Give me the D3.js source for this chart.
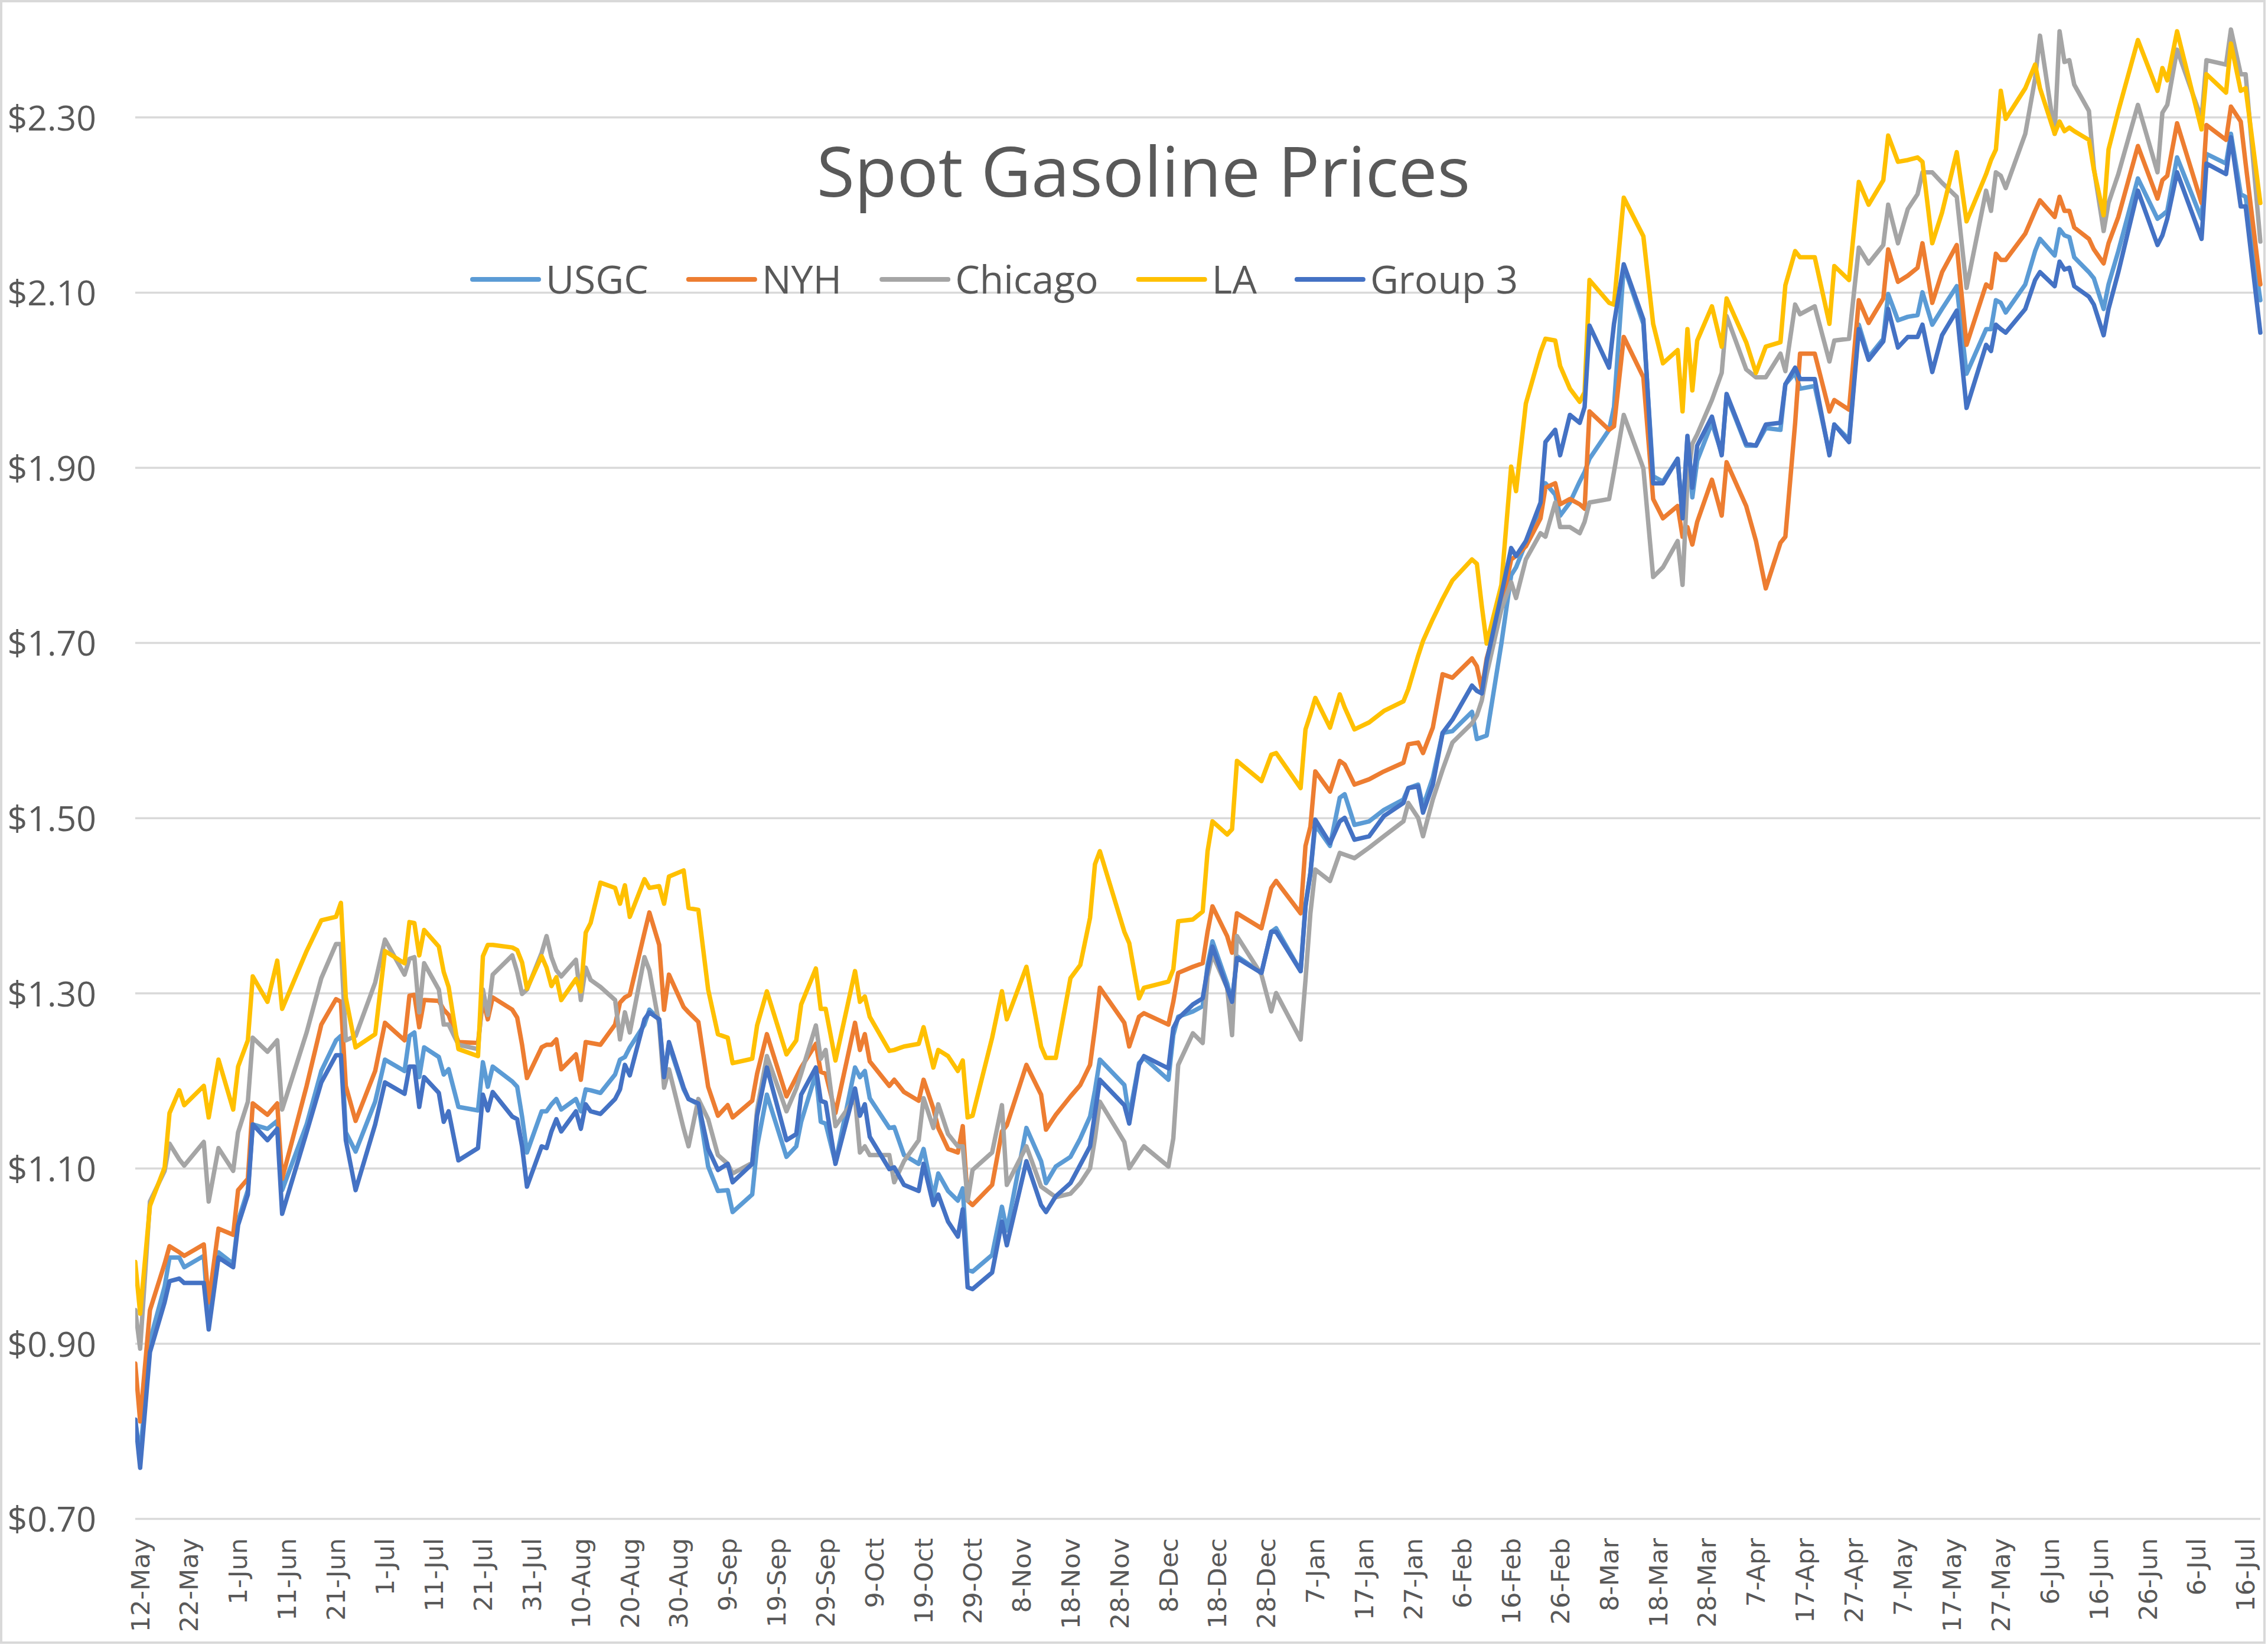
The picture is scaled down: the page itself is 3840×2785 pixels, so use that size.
<!DOCTYPE html>
<html><head><meta charset="utf-8">
<script src="https://cdn.jsdelivr.net/npm/d3@7"></script>
<style>html,body{margin:0;padding:0;background:#fff}svg{display:block}</style>
</head><body>
<svg id="chart" width="3840" height="2785"></svg>
<script>
const chartTitle = "Spot Gasoline Prices";
const seriesNames = ["USGC", "NYH", "Chicago", "LA", "Group 3"];
const seriesColors = ["#5B9BD5", "#ED7D31", "#A5A5A5", "#FFC000", "#4472C4"];
const yTicks = [0.7, 0.9, 1.1, 1.3, 1.5, 1.7, 1.9, 2.1, 2.3];
const xTickDates = ["2020-05-12","2020-05-22","2020-06-01","2020-06-11","2020-06-21","2020-07-01","2020-07-11","2020-07-21","2020-07-31","2020-08-10","2020-08-20","2020-08-30","2020-09-09","2020-09-19","2020-09-29","2020-10-09","2020-10-19","2020-10-29","2020-11-08","2020-11-18","2020-11-28","2020-12-08","2020-12-18","2020-12-28","2021-01-07","2021-01-17","2021-01-27","2021-02-06","2021-02-16","2021-02-26","2021-03-08","2021-03-18","2021-03-28","2021-04-07","2021-04-17","2021-04-27","2021-05-07","2021-05-17","2021-05-27","2021-06-06","2021-06-16","2021-06-26","2021-07-06","2021-07-16"];

const dates = [
"2020-05-12","2020-05-13","2020-05-15","2020-05-18","2020-05-19","2020-05-21","2020-05-22","2020-05-26","2020-05-27","2020-05-29",
"2020-06-01","2020-06-02","2020-06-04","2020-06-05","2020-06-08","2020-06-10","2020-06-11","2020-06-16","2020-06-19","2020-06-22",
"2020-06-23","2020-06-24","2020-06-26","2020-06-30","2020-07-02","2020-07-06","2020-07-07",
"2020-07-08","2020-07-09","2020-07-10","2020-07-13","2020-07-14","2020-07-15","2020-07-17","2020-07-21","2020-07-22","2020-07-23",
"2020-07-24","2020-07-28","2020-07-29","2020-07-30","2020-07-31","2020-08-03","2020-08-04","2020-08-05","2020-08-06","2020-08-07",
"2020-08-10","2020-08-11","2020-08-12","2020-08-13","2020-08-15","2020-08-18","2020-08-19","2020-08-20","2020-08-21","2020-08-24",
"2020-08-25","2020-08-27","2020-08-28","2020-08-29","2020-09-01","2020-09-02","2020-09-04","2020-09-06",
"2020-09-08","2020-09-10","2020-09-11","2020-09-15","2020-09-16","2020-09-18","2020-09-22","2020-09-24","2020-09-25","2020-09-28",
"2020-09-29","2020-09-30","2020-10-02","2020-10-06","2020-10-07","2020-10-08","2020-10-09","2020-10-13","2020-10-14","2020-10-16",
"2020-10-19","2020-10-20","2020-10-22","2020-10-23","2020-10-25","2020-10-27","2020-10-28","2020-10-29","2020-10-30","2020-11-03",
"2020-11-05","2020-11-06",
"2020-11-10","2020-11-13","2020-11-14","2020-11-16","2020-11-19","2020-11-21","2020-11-23","2020-11-24","2020-11-25","2020-11-30",
"2020-12-01","2020-12-03","2020-12-04","2020-12-09","2020-12-10","2020-12-11","2020-12-14","2020-12-16","2020-12-17","2020-12-18",
"2020-12-21","2020-12-22","2020-12-23","2020-12-28","2020-12-30","2020-12-31","2021-01-05","2021-01-06","2021-01-07","2021-01-08",
"2021-01-11","2021-01-13","2021-01-14","2021-01-16","2021-01-19","2021-01-22","2021-01-26","2021-01-27","2021-01-29","2021-01-30",
"2021-02-01","2021-02-03",
"2021-02-05","2021-02-09","2021-02-10","2021-02-11","2021-02-12","2021-02-15","2021-02-17","2021-02-18","2021-02-20","2021-02-23",
"2021-02-24","2021-02-26","2021-02-27","2021-03-01","2021-03-03","2021-03-04","2021-03-05","2021-03-09","2021-03-10","2021-03-12",
"2021-03-16","2021-03-18","2021-03-20","2021-03-23","2021-03-24","2021-03-25","2021-03-26","2021-03-27","2021-03-30","2021-04-01",
"2021-04-02","2021-04-06","2021-04-08","2021-04-10","2021-04-13","2021-04-14","2021-04-16","2021-04-17","2021-04-20","2021-04-23",
"2021-04-24","2021-04-27","2021-04-29",
"2021-05-01","2021-05-04","2021-05-05","2021-05-07","2021-05-09","2021-05-11","2021-05-12","2021-05-14","2021-05-16","2021-05-19",
"2021-05-21","2021-05-25","2021-05-26","2021-05-27","2021-05-28","2021-05-29","2021-06-02","2021-06-04","2021-06-05","2021-06-08",
"2021-06-09","2021-06-10","2021-06-11","2021-06-12","2021-06-15","2021-06-16","2021-06-18","2021-06-19","2021-06-21","2021-06-25",
"2021-06-29","2021-06-30","2021-07-01","2021-07-03","2021-07-08","2021-07-09","2021-07-13","2021-07-14","2021-07-16","2021-07-17",
"2021-07-20"];

const usgc = [
0.813,0.771,0.903,0.965,0.998,0.998,0.987,1.000,0.925,1.004,0.991,1.040,1.075,1.150,1.145,1.154,1.075,1.150,1.211,1.246,1.251,1.141,1.119,1.176,1.224,1.211,1.251,
1.255,1.204,1.238,1.227,1.207,1.213,1.170,1.166,1.221,1.193,1.216,1.199,1.193,1.159,1.118,1.165,1.165,1.173,1.179,1.167,1.179,1.165,1.190,1.189,1.186,1.207,1.224,1.227,1.238,1.264,1.281,1.270,1.207,1.241,1.190,1.179,1.173,1.102,
1.074,1.075,1.050,1.070,1.125,1.184,1.113,1.125,1.153,1.208,1.153,1.151,1.106,1.215,1.204,1.211,1.180,1.146,1.147,1.115,1.105,1.122,1.067,1.094,1.074,1.063,1.077,0.984,0.982,1.001,1.056,1.029,
1.146,1.108,1.083,1.102,1.113,1.134,1.159,1.189,1.224,1.195,1.159,1.220,1.226,1.201,1.252,1.273,1.279,1.285,1.332,1.359,1.311,1.290,1.342,1.323,1.370,1.374,1.325,1.401,1.437,1.492,1.468,1.523,1.527,1.492,1.496,1.509,1.521,1.534,1.538,1.513,1.546,1.597,
1.599,1.621,1.590,1.592,1.594,1.699,1.777,1.786,1.814,1.851,1.882,1.869,1.845,1.860,1.884,1.895,1.910,1.943,1.969,2.130,2.064,1.890,1.884,1.910,1.845,1.934,1.866,1.908,1.951,1.916,1.982,1.925,1.925,1.945,1.943,1.995,2.008,1.990,1.993,1.916,1.949,1.932,2.063,
2.026,2.047,2.098,2.068,2.072,2.074,2.100,2.063,2.081,2.107,2.007,2.058,2.058,2.091,2.088,2.077,2.109,2.147,2.161,2.142,2.172,2.165,2.163,2.140,2.123,2.116,2.081,2.109,2.147,2.230,2.184,2.188,2.193,2.254,2.184,2.258,2.247,2.281,2.212,2.209,2.091];

const nyh = [
0.877,0.811,0.938,0.991,1.011,1.004,1.000,1.013,0.947,1.031,1.024,1.075,1.088,1.174,1.161,1.174,1.088,1.194,1.264,1.293,1.290,1.194,1.154,1.211,1.266,1.246,1.297,
1.298,1.261,1.292,1.291,1.281,1.275,1.244,1.243,1.292,1.270,1.295,1.281,1.272,1.241,1.203,1.238,1.241,1.241,1.247,1.213,1.230,1.201,1.244,1.243,1.241,1.264,1.289,1.295,1.298,1.369,1.392,1.355,1.281,1.321,1.284,1.278,1.267,1.193,
1.160,1.172,1.158,1.177,1.208,1.253,1.182,1.204,1.215,1.242,1.210,1.208,1.163,1.266,1.235,1.253,1.222,1.194,1.201,1.187,1.177,1.201,1.168,1.146,1.122,1.118,1.148,1.063,1.058,1.081,1.142,1.149,
1.218,1.184,1.144,1.161,1.182,1.195,1.218,1.260,1.306,1.266,1.239,1.273,1.277,1.264,1.290,1.323,1.330,1.334,1.370,1.399,1.365,1.346,1.391,1.374,1.420,1.428,1.391,1.468,1.490,1.553,1.530,1.565,1.561,1.538,1.544,1.553,1.563,1.584,1.586,1.574,1.603,1.664,
1.660,1.682,1.673,1.647,1.682,1.742,1.795,1.799,1.810,1.842,1.877,1.882,1.858,1.864,1.858,1.853,1.964,1.943,1.947,2.049,2.003,1.864,1.842,1.856,1.821,1.832,1.812,1.838,1.886,1.845,1.906,1.856,1.816,1.762,1.814,1.821,1.951,2.030,2.030,1.964,1.977,1.966,2.091,
2.065,2.093,2.149,2.112,2.119,2.128,2.156,2.088,2.123,2.154,2.040,2.109,2.105,2.144,2.137,2.137,2.167,2.193,2.205,2.186,2.209,2.193,2.193,2.174,2.161,2.149,2.133,2.156,2.186,2.267,2.207,2.228,2.233,2.293,2.202,2.291,2.274,2.312,2.295,2.247,2.109];

const chicago = [
0.938,0.894,1.062,1.097,1.128,1.110,1.103,1.130,1.062,1.123,1.097,1.141,1.176,1.249,1.233,1.246,1.167,1.255,1.317,1.356,1.356,1.246,1.251,1.312,1.361,1.321,1.339,
1.341,1.278,1.334,1.304,1.264,1.264,1.241,1.236,1.304,1.275,1.321,1.343,1.324,1.299,1.304,1.346,1.365,1.341,1.326,1.319,1.338,1.292,1.329,1.315,1.307,1.292,1.247,1.278,1.255,1.341,1.326,1.264,1.192,1.213,1.145,1.125,1.179,1.156,
1.115,1.105,1.094,1.106,1.167,1.228,1.165,1.191,1.208,1.263,1.225,1.235,1.148,1.180,1.118,1.125,1.115,1.115,1.084,1.108,1.132,1.180,1.146,1.173,1.139,1.125,1.125,1.063,1.098,1.118,1.172,1.081,
1.125,1.079,1.075,1.067,1.071,1.083,1.100,1.134,1.176,1.130,1.100,1.117,1.125,1.102,1.134,1.218,1.254,1.243,1.319,1.344,1.306,1.252,1.365,1.321,1.279,1.300,1.247,1.315,1.391,1.441,1.428,1.460,1.458,1.454,1.466,1.479,1.496,1.517,1.500,1.479,1.521,1.555,
1.586,1.608,1.617,1.634,1.664,1.738,1.769,1.751,1.795,1.825,1.821,1.860,1.832,1.832,1.825,1.838,1.860,1.864,1.895,1.960,1.899,1.775,1.786,1.816,1.766,1.884,1.927,1.938,1.977,2.008,2.073,2.012,2.003,2.003,2.030,2.010,2.086,2.075,2.084,2.021,2.045,2.047,2.151,
2.133,2.154,2.200,2.156,2.195,2.212,2.237,2.237,2.225,2.209,2.105,2.216,2.193,2.237,2.233,2.219,2.281,2.344,2.393,2.281,2.398,2.363,2.365,2.337,2.307,2.242,2.170,2.202,2.235,2.314,2.237,2.305,2.314,2.377,2.298,2.365,2.360,2.400,2.349,2.349,2.158];

const la = [
0.993,0.934,1.057,1.101,1.163,1.189,1.172,1.194,1.158,1.224,1.167,1.216,1.246,1.319,1.290,1.337,1.282,1.348,1.383,1.387,1.403,1.295,1.238,1.253,1.348,1.334,1.381,
1.380,1.343,1.372,1.353,1.324,1.307,1.236,1.228,1.342,1.355,1.355,1.352,1.349,1.335,1.305,1.342,1.329,1.308,1.318,1.292,1.316,1.302,1.369,1.380,1.426,1.420,1.402,1.423,1.387,1.430,1.420,1.422,1.402,1.433,1.440,1.397,1.395,1.304,
1.253,1.249,1.220,1.225,1.263,1.302,1.230,1.246,1.287,1.328,1.282,1.282,1.223,1.325,1.290,1.296,1.273,1.234,1.235,1.239,1.242,1.261,1.215,1.235,1.228,1.211,1.223,1.158,1.160,1.249,1.302,1.270,
1.330,1.239,1.226,1.226,1.317,1.332,1.386,1.447,1.462,1.370,1.357,1.294,1.306,1.313,1.327,1.382,1.384,1.393,1.462,1.496,1.481,1.487,1.565,1.542,1.572,1.574,1.534,1.601,1.618,1.637,1.603,1.641,1.626,1.601,1.609,1.622,1.633,1.647,1.685,1.702,1.727,1.750,
1.771,1.795,1.790,1.742,1.699,1.766,1.901,1.873,1.973,2.032,2.047,2.045,2.016,1.990,1.975,1.986,2.114,2.088,2.086,2.208,2.164,2.064,2.019,2.034,1.964,2.058,1.988,2.045,2.084,2.038,2.093,2.043,2.008,2.038,2.043,2.108,2.147,2.140,2.140,2.064,2.130,2.114,2.226,
2.200,2.228,2.279,2.249,2.251,2.254,2.249,2.156,2.191,2.260,2.181,2.235,2.251,2.263,2.330,2.298,2.333,2.360,2.333,2.281,2.295,2.284,2.288,2.284,2.274,2.240,2.188,2.263,2.307,2.388,2.330,2.356,2.342,2.398,2.286,2.349,2.328,2.384,2.330,2.333,2.202];

const group3 = [
0.813,0.758,0.890,0.947,0.971,0.974,0.969,0.969,0.916,0.998,0.987,1.035,1.070,1.150,1.132,1.145,1.048,1.141,1.198,1.229,1.229,1.132,1.075,1.150,1.198,1.185,1.216,
1.216,1.170,1.204,1.186,1.153,1.165,1.109,1.123,1.184,1.166,1.187,1.159,1.156,1.125,1.079,1.125,1.123,1.142,1.156,1.142,1.165,1.145,1.173,1.165,1.162,1.179,1.190,1.218,1.206,1.270,1.278,1.270,1.204,1.244,1.192,1.179,1.174,1.122,
1.098,1.105,1.084,1.105,1.160,1.215,1.132,1.139,1.184,1.215,1.177,1.175,1.105,1.191,1.160,1.173,1.136,1.099,1.101,1.081,1.074,1.105,1.058,1.070,1.039,1.022,1.053,0.964,0.962,0.981,1.039,1.012,
1.108,1.058,1.050,1.068,1.083,1.104,1.125,1.163,1.201,1.172,1.151,1.218,1.228,1.214,1.260,1.271,1.287,1.294,1.327,1.353,1.306,1.290,1.340,1.323,1.370,1.370,1.325,1.399,1.437,1.498,1.471,1.496,1.500,1.475,1.479,1.502,1.517,1.534,1.536,1.506,1.538,1.597,
1.612,1.651,1.645,1.642,1.679,1.755,1.808,1.799,1.816,1.860,1.929,1.943,1.914,1.960,1.951,1.969,2.062,2.014,2.064,2.132,2.069,1.882,1.882,1.910,1.842,1.936,1.877,1.925,1.958,1.914,1.984,1.927,1.925,1.949,1.951,1.995,2.014,2.001,2.001,1.914,1.949,1.929,2.058,
2.023,2.044,2.081,2.037,2.049,2.049,2.063,2.009,2.051,2.079,1.968,2.040,2.033,2.063,2.058,2.054,2.081,2.114,2.123,2.107,2.135,2.126,2.128,2.107,2.095,2.086,2.051,2.081,2.123,2.216,2.154,2.165,2.184,2.237,2.161,2.247,2.235,2.277,2.198,2.198,2.054];

const seriesValues = [usgc, nyh, chicago, la, group3];

// ---------- layout ----------
const W = 3840, H = 2785;
const plot = {left: 229, right: 3827, top: 50, bottom: 2571};
const textColor = "#595959";
const parse = d3.utcParse("%Y-%m-%d");
const parsedDates = dates.map(parse);

const svg = d3.select("#chart");
svg.append("rect").attr("x", 0).attr("y", 0).attr("width", W).attr("height", H).attr("fill", "#fff");
svg.append("rect").attr("x", 2).attr("y", 2).attr("width", 3832).attr("height", 2779)
  .attr("fill", "none").attr("stroke", "#D9D9D9").attr("stroke-width", 4);

const x = d3.scaleUtc().domain([parse("2020-05-12"), parse("2021-07-20")]).range([plot.left, plot.right]);
const y = d3.scaleLinear().domain([0.7, 2.4]).range([plot.bottom, plot.top]);

// y axis + gridlines
const yAxis = d3.axisLeft(y).tickValues(yTicks).tickFormat(d3.format("$.2f"))
  .tickSize(-(plot.right - plot.left)).tickPadding(66);
const gy = svg.append("g").attr("transform", `translate(${plot.left},0)`).call(yAxis);
gy.select(".domain").remove();
gy.selectAll(".tick line").attr("stroke", "#D9D9D9").attr("stroke-width", 3.5);
gy.selectAll(".tick text").attr("fill", textColor).attr("font-family", "'Open Sans', 'Noto Sans', sans-serif")
  .attr("font-size", 59).attr("dy", "0.37em");

// x axis labels
const xAxis = d3.axisBottom(x).tickValues(xTickDates.map(parse)).tickFormat(d3.utcFormat("%-d-%b"))
  .tickSize(0).tickPadding(0);
const gx = svg.append("g").attr("transform", `translate(0,${plot.bottom})`).call(xAxis);
gx.select(".domain").remove();
gx.selectAll(".tick text").attr("fill", textColor).attr("font-family", "'DejaVu Sans', sans-serif")
  .attr("font-size", 43).attr("text-anchor", "end").attr("transform", "rotate(-90)")
  .attr("x", -33).attr("y", 8).attr("dy", "0.35em");

// lines
svg.append("clipPath").attr("id", "plotclip").append("rect")
  .attr("x", plot.left).attr("y", plot.top - 4).attr("width", plot.right - plot.left + 4).attr("height", plot.bottom - plot.top + 4);
const line = d3.line().x((d, i) => x(parsedDates[i])).y(d => y(d));
const gl = svg.append("g").attr("clip-path", "url(#plotclip)");
seriesValues.forEach((vals, k) => {
  gl.append("path").datum(vals).attr("d", line).attr("fill", "none")
    .attr("stroke", seriesColors[k]).attr("stroke-width", 7.5)
    .attr("stroke-linejoin", "round").attr("stroke-linecap", "round");
});

// title
svg.append("text").attr("x", 1936).attr("y", 333).attr("text-anchor", "middle")
  .attr("fill", textColor).attr("font-family", "'Open Sans', 'Noto Sans', sans-serif").attr("font-size", 117)
  .text(chartTitle);

// legend
const lg = svg.append("g");
let lx = 800;
seriesNames.forEach((name, k) => {
  lg.append("line").attr("x1", lx).attr("x2", lx + 112).attr("y1", 473).attr("y2", 473)
    .attr("stroke", seriesColors[k]).attr("stroke-width", 8).attr("stroke-linecap", "round");
  const t = lg.append("text").attr("x", lx + 124).attr("y", 497).attr("fill", textColor)
    .attr("font-family", "'Open Sans', 'Noto Sans', sans-serif").attr("font-size", 66).text(name);
  const w = t.node().getComputedTextLength();
  lx = lx + 124 + w + 68;
});
</script>
</body></html>
